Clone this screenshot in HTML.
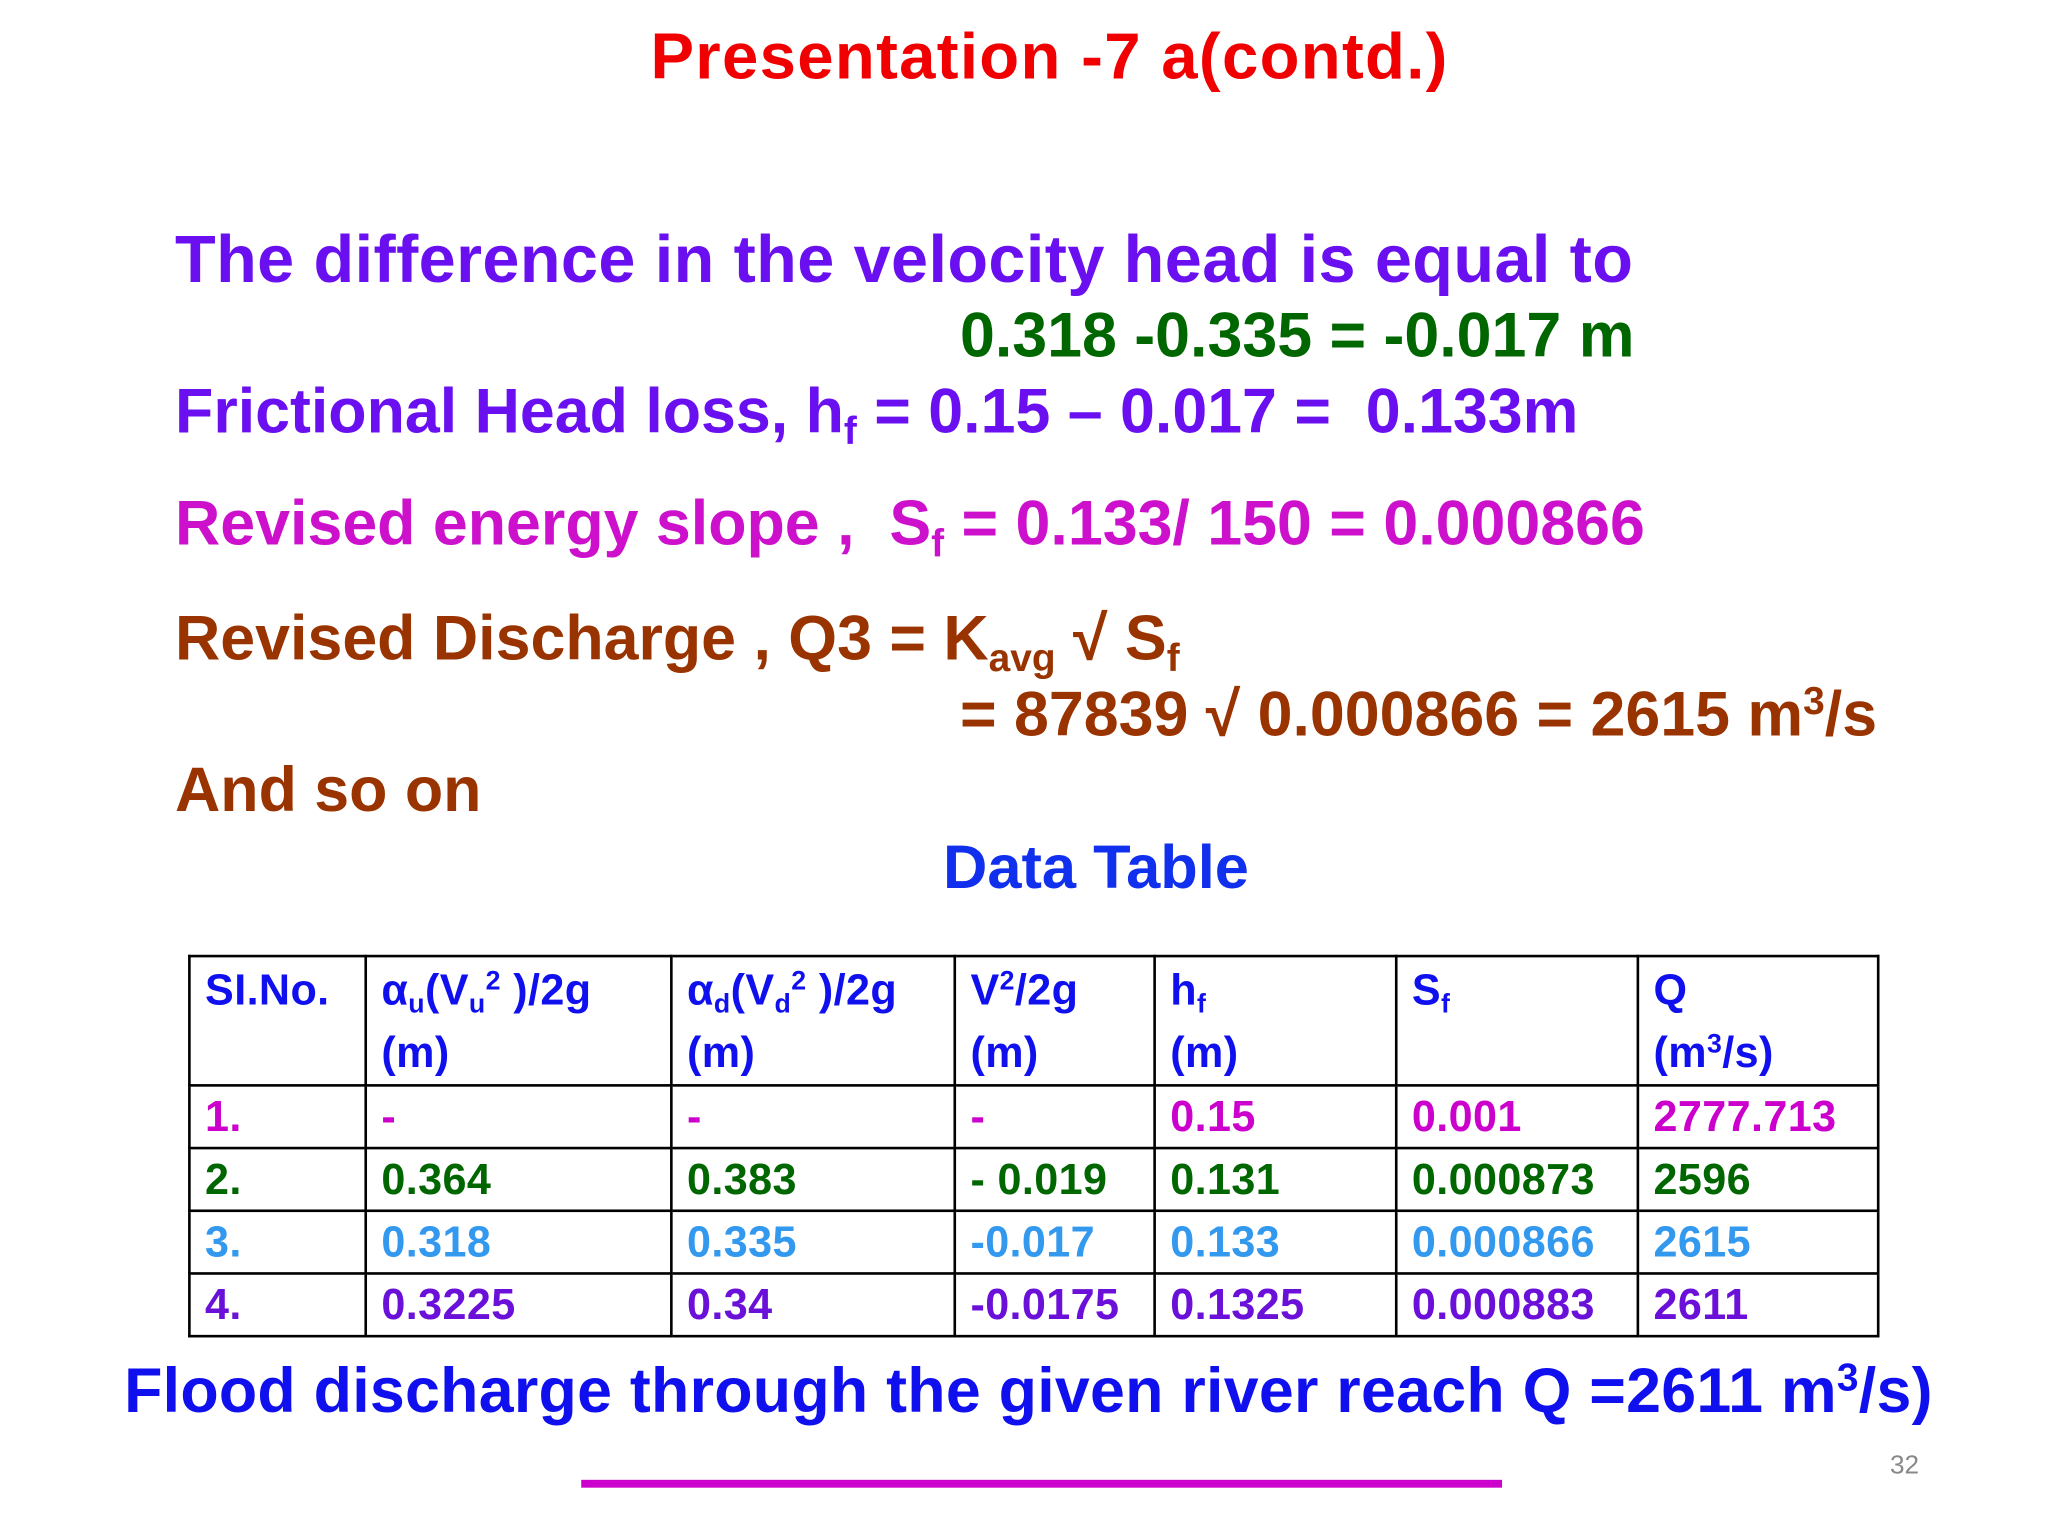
<!DOCTYPE html>
<html><head><meta charset="utf-8"><style>
html,body{margin:0;padding:0;background:#fff;width:2048px;height:1536px;overflow:hidden}
#s{position:absolute;left:0;top:0;width:1568px;height:1176px;transform:scale(1.30612);transform-origin:0 0;font-family:"Liberation Sans",Arial,sans-serif;font-weight:bold}
.t{position:absolute;white-space:pre;line-height:1;font-size:48px}
sub{font-size:0.62em;vertical-align:-0.3em;line-height:0}
sup{font-size:0.62em;vertical-align:0.55em;line-height:0}
table{position:absolute;left:144px;top:731px;border-collapse:collapse;font-size:33px;table-layout:fixed;width:1293px;letter-spacing:0.3px}
td{border:2px solid #000;padding:0 0 0 11px;vertical-align:top;line-height:46px;height:48px;white-space:nowrap;box-sizing:border-box;overflow:hidden}
tr.h td{height:96px;line-height:48px;padding-top:1px;color:#1010ee}
.r1 td{color:#cc00cc}.r2 td{color:#006600}.r3 td{color:#3399ee}.r4 td{color:#6a10d8}
</style></head><body>
<div id="s">
<div class="t" style="left:498px;top:18px;font-size:50px;letter-spacing:1px;color:#f00000">Presentation -7 a(contd.)</div>
<div class="t" style="left:134px;top:173px;font-size:51px;letter-spacing:0.3px;color:#6a10f0">The difference in the velocity head is equal to</div>
<div class="t" style="left:735px;top:234px;color:#006600">0.318 -0.335 = -0.017 m</div>
<div class="t" style="left:134px;top:292px;color:#6a10f0">Frictional Head loss, h<sub>f</sub> = 0.15 – 0.017 =  0.133m</div>
<div class="t" style="left:134px;top:378px;color:#cc10cc">Revised energy slope ,  S<sub>f</sub> = 0.133/ 150 = 0.000866</div>
<div class="t" style="left:134px;top:466px;color:#993300">Revised Discharge , Q3 = K<sub>avg</sub> √ S<sub>f</sub></div>
<div class="t" style="left:735px;top:524px;color:#993300">= 87839 √ 0.000866 = 2615 m<sup>3</sup>/s</div>
<div class="t" style="left:134px;top:582px;color:#993300">And so on</div>
<div class="t" style="left:722px;top:640px;font-size:47px;color:#1030ee">Data Table</div>
<table>
<colgroup><col style="width:135px"><col style="width:234px"><col style="width:217px"><col style="width:153px"><col style="width:185px"><col style="width:185px"><col style="width:184px"></colgroup>
<tr class="h"><td>SI.No.</td><td>α<sub>u</sub>(V<sub>u</sub><sup>2</sup> )/2g<br>(m)</td><td>α<sub>d</sub>(V<sub>d</sub><sup>2</sup> )/2g<br>(m)</td><td>V<sup>2</sup>/2g<br>(m)</td><td>h<sub>f</sub><br>(m)</td><td>S<sub>f</sub></td><td>Q<br>(m<sup>3</sup>/s)</td></tr>
<tr class="r1"><td>1.</td><td>-</td><td>-</td><td>-</td><td>0.15</td><td>0.001</td><td>2777.713</td></tr>
<tr class="r2"><td>2.</td><td>0.364</td><td>0.383</td><td>- 0.019</td><td>0.131</td><td>0.000873</td><td>2596</td></tr>
<tr class="r3"><td>3.</td><td>0.318</td><td>0.335</td><td>-0.017</td><td>0.133</td><td>0.000866</td><td>2615</td></tr>
<tr class="r4"><td>4.</td><td>0.3225</td><td>0.34</td><td>-0.0175</td><td>0.1325</td><td>0.000883</td><td>2611</td></tr>
</table>
<div class="t" style="left:95px;top:1042px;letter-spacing:0.2px;color:#1010ee">Flood discharge through the given river reach Q =2611 m<sup>3</sup>/s)</div>
<div class="t" style="left:1447px;top:1112px;font-size:20px;font-weight:normal;color:#888">32</div>
<div style="position:absolute;left:445px;top:1133px;width:705px;height:6px;background:#cc00cc"></div>
</div>
</body></html>
